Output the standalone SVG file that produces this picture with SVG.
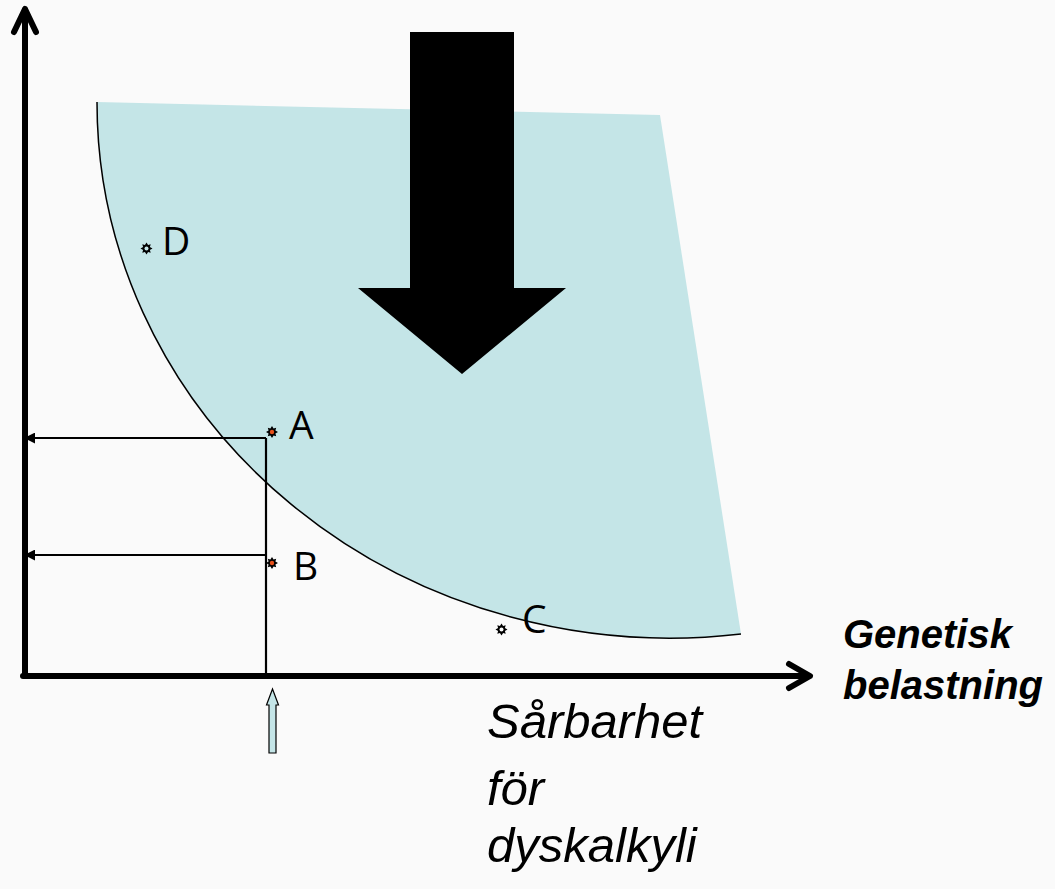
<svg xmlns="http://www.w3.org/2000/svg" width="1055" height="889" viewBox="0 0 1055 889">
<style>
.lbl{font-family:"Open Sans","Liberation Sans",sans-serif;font-size:39px;fill:#000}
.axis{font-family:"Liberation Sans",Arial,sans-serif;font-weight:bold;font-style:italic;font-size:40px;fill:#000}
.vuln{font-family:"Liberation Sans",Arial,sans-serif;font-style:italic;font-size:49px;fill:#000}
.ax{stroke:#000;stroke-width:6;fill:none;stroke-linecap:round;stroke-linejoin:round}
.thin{stroke:#000;stroke-width:2.2;fill:none}
</style>
<defs>
<marker id="ah" viewBox="0 0 10 10" refX="1" refY="5" markerWidth="5" markerHeight="5" orient="auto-start-reverse" markerUnits="strokeWidth">
<path d="M0,0 L10,5 L0,10 Z" fill="#000"/>
</marker>
<symbol id="star" viewBox="-6 -6 12 12" overflow="visible">
<path d="M0,-6 L1.6,-3.4 L4.2,-4.2 L3.4,-1.6 L6,0 L3.4,1.6 L4.2,4.2 L1.6,3.4 L0,6 L-1.6,3.4 L-4.2,4.2 L-3.4,1.6 L-6,0 L-3.4,-1.6 L-4.2,-4.2 L-1.6,-3.4 Z" fill="#000"/>
</symbol>
</defs>
<rect width="1055" height="889" fill="#fafafa"/>
<g id="region">
<path d="M97,102 L660,115 L741,634 A573,536 0 0 1 97,102 Z" fill="#c4e5e7"/>
<path d="M741,634 A573,536 0 0 1 97,102" fill="none" stroke="#000" stroke-width="1.5"/>
</g>
<g id="bigarrow">
<path d="M410,32 L514,32 L514,288 L566,288 L462,374 L358,288 L410,288 Z" fill="#000"/>
</g>
<g id="connectors">
<path class="ax" d="M25,676 L25,10"/>
<path class="ax" d="M14,32 L25,9 L36,32"/>
<path class="ax" d="M23,676 L808,676"/>
<path class="ax" d="M789,664 L810,676 L789,688"/>
<path class="thin" d="M266,438 L266,676"/>
<path class="thin" d="M266,438 L34,438" marker-end="url(#ah)"/>
<path class="thin" d="M266,555 L34,555" marker-end="url(#ah)"/>
</g>
<g id="vulnarrow">
<path d="M269,753 L276,753 L276,705 L278.5,705 L272.5,689 L266.5,705 L269,705 Z" fill="#c4e5e7" stroke="#000" stroke-width="1.2"/>
</g>
<g id="pointA">
<use href="#star" x="266" y="426" width="12" height="12"/>
<circle cx="272" cy="432" r="2.2" fill="#e8501a"/>
<text class="lbl" x="289" y="439">A</text>
</g>
<g id="pointB">
<use href="#star" x="266" y="557" width="12" height="12"/>
<circle cx="272" cy="563" r="2.2" fill="#e8501a"/>
<text class="lbl" x="293" y="580">B</text>
</g>
<g id="pointC">
<use href="#star" x="495.5" y="623.5" width="12" height="12"/>
<circle cx="501.5" cy="629.5" r="2" fill="#fafafa"/>
<text class="lbl" x="522" y="633">C</text>
</g>
<g id="pointD">
<use href="#star" x="140.5" y="242.5" width="12" height="12"/>
<circle cx="146.5" cy="248.5" r="2" fill="#c4e5e7"/>
<text class="lbl" x="162" y="255">D</text>
</g>
<g id="xlabel">
<text class="axis" x="843" y="648">Genetisk</text>
<text class="axis" x="843" y="699">belastning</text>
</g>
<g id="vlabel">
<text class="vuln" x="487" y="738">Sårbarhet</text>
<text class="vuln" x="487" y="805">för</text>
<text class="vuln" x="487" y="862">dyskalkyli</text>
</g>
</svg>
